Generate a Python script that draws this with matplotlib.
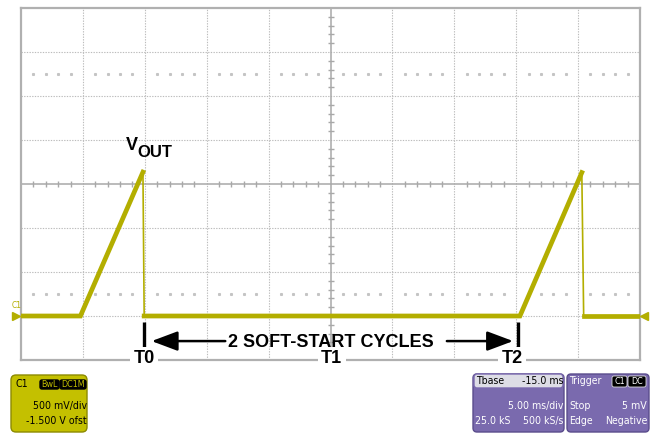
import matplotlib
matplotlib.use('Agg')
import matplotlib.pyplot as plt
from matplotlib import font_manager
from matplotlib.font_manager import FontProperties
from matplotlib.textpath import TextPath
from matplotlib.patches import FancyBboxPatch

# scope settings (5 ms/div, 500 mV/div, ofst -1.5 V -> screen centre = 1.5 V)
ms_per_div = 5.0
v_per_div = 0.5
v_center = 1.5
n_xdiv = 10
n_ydiv = 8

# VOUT trace breakpoints
trace_t = [0.0, 4.8, 9.85, 9.95, 40.3, 45.3, 45.45, 50.0]   # ms
trace_v = [0.0, 0.0, 1.635, 0.0, 0.0, 1.63, 0.0, 0.0]      # V
rise_segments = [(0, 2), (3, 5), (6, 7)]   # drawn thick
fall_segments = [(2, 3), (5, 6)]           # fast discharge, thin

# T0 / T1 / T2 markers
marker_labels = ['T0', 'T1', 'T2']
marker_t = [9.95, 25.1, 39.7]

trace_col = '#b3ae00'
grid_col = '#bcbcbc'
purple = '#7a6aae'
c1_col = '#c4c000'
bold_font = 'Liberation Sans'

# look for a condensed sans for the scope readouts
narrow_fp = None
for f in font_manager.fontManager.ttflist:
    if ('Narrow' in f.name or 'Condensed' in f.name or f.stretch in ('condensed', 'semi-condensed')) \
            and f.weight in ('normal', 400, 'regular') and f.style == 'normal':
        narrow_fp = FontProperties(fname=f.fname)
        break
if narrow_fp is None:
    narrow_fp = FontProperties(family='Liberation Sans')

# size so that "500 mV/div" is about 47 px wide, but keep the glyphs readable
w10 = TextPath((0, 0), '500 mV/div', size=10, prop=narrow_fp).get_extents().width
nfs = min(8.6, max(7.6, 47 * 0.72 * 10 / w10))

W, H = 650, 433
fig = plt.figure(figsize=(6.5, 4.33), dpi=100)
fig.patch.set_facecolor('white')

# graticule area in pixels: x 21..640, y 8..360
ax = fig.add_axes([21 / W, (H - 360) / H, 619 / W, 352 / H])
x0, x1 = 0.0, n_xdiv * ms_per_div
y0, y1 = v_center - 4 * v_per_div, v_center + 4 * v_per_div
ax.set_xlim(x0, x1)
ax.set_ylim(y0, y1)
ax.set_xticks([])
ax.set_yticks([])
for s in ax.spines.values():
    s.set_color('#b0b0b0')
    s.set_linewidth(1.6)

px_x = ms_per_div / 61.9   # ms per pixel
px_y = v_per_div / 44.0    # V per pixel

# dotted grid
for i in range(1, n_xdiv):
    if i != n_xdiv // 2:
        ax.axvline(i * ms_per_div, color=grid_col, lw=0.8, ls=(0, (1.2, 1.2)), zorder=1)
for j in range(1, n_ydiv):
    if j != n_ydiv // 2:
        ax.axhline(y0 + j * v_per_div, color=grid_col, lw=0.8, ls=(0, (1.2, 1.2)), zorder=1)

# centre axes with sub-division ticks
xc = x0 + n_xdiv / 2 * ms_per_div
ax.axhline(v_center, color='#a8a8a8', lw=1.1, zorder=1)
ax.axvline(xc, color='#a8a8a8', lw=1.1, zorder=1)
sub_t = [k * ms_per_div / 5 for k in range(1, n_xdiv * 5) if k % 5]
sub_v = [y0 + k * v_per_div / 5 for k in range(1, n_ydiv * 5) if k % 5]
ax.vlines(sub_t, v_center - 3 * px_y, v_center + 3 * px_y, color='#a8a8a8', lw=1.0, zorder=1)
ax.hlines(sub_v, xc - 3 * px_x, xc + 3 * px_x, color='#a8a8a8', lw=1.0, zorder=1)

# dot rows at +/-2.5 div
for yy in (v_center + 2.5 * v_per_div, v_center - 2.5 * v_per_div):
    ax.plot(sub_t, [yy] * len(sub_t), ls='none', marker='s', ms=1.2, color='#c4c4c4', zorder=1)

# trace
for a, b in rise_segments:
    ax.plot(trace_t[a:b + 1], trace_v[a:b + 1], color=trace_col, lw=3.4,
            solid_joinstyle='miter', zorder=4)
for a, b in fall_segments:
    ax.plot(trace_t[a:b + 1], trace_v[a:b + 1], color=trace_col, lw=1.2, zorder=4)

# ground markers
ax.plot([x0 - 5 * px_x], [0], marker='>', ms=6, color=trace_col, clip_on=False, zorder=5)
ax.plot([x1 + 4 * px_x], [0], marker='<', ms=6, color=trace_col, clip_on=False, zorder=5)
ax.text(x0 - 9 * px_x, 0 + 10 * px_y, 'C1', color=trace_col, fontsize=6,
        fontproperties=narrow_fp, ha='left', va='center', clip_on=False)

# VOUT label
ax.text(8.48, 1.886, 'V', fontsize=13, weight='bold', family=bold_font, ha='left', va='baseline')
ax.text(9.40, 1.807, 'OUT', fontsize=12, weight='bold', family=bold_font, ha='left', va='baseline')

# T0 / T2 vertical bars
ax.vlines([marker_t[0], 40.15], -0.068, -0.352, color='black', lw=2.4, zorder=5)

# cycle arrows and text
ya = v_center - 3.57 * v_per_div
ax.text(25.04, -0.352, '2 SOFT-START CYCLES', fontsize=13, weight='bold', family=bold_font,
        ha='center', va='baseline', zorder=6)
arrow = dict(arrowstyle='-|>,head_length=0.8,head_width=0.3', color='black', lw=1.8,
             mutation_scale=20, shrinkA=0, shrinkB=0)
ax.annotate('', xy=(10.55, ya), xytext=(16.5, ya), arrowprops=arrow)
ax.annotate('', xy=(39.75, ya), xytext=(34.4, ya), arrowprops=arrow)

for lab, t in zip(marker_labels, marker_t):
    ax.text(t, -0.5375, lab, fontsize=13, weight='bold', family=bold_font, ha='center',
            va='baseline', clip_on=False, zorder=6,
            bbox=dict(fc='white', ec='none', pad=2.5))

# overlay in pixel coordinates for the info boxes
ov = fig.add_axes([0, 0, 1, 1], zorder=10)
ov.set_xlim(0, W)
ov.set_ylim(H, 0)
ov.axis('off')


def rbox(xa, ya_, xb, yb, fc, ec, r=4, lw=1.0):
    ov.add_patch(FancyBboxPatch((xa, ya_), xb - xa, yb - ya_,
                                boxstyle='round,pad=0,rounding_size=%g' % r,
                                fc=fc, ec=ec, lw=lw))


def txt(x, y, s, color, ha='left', fs=None):
    ov.text(x, y, s, color=color, fontproperties=narrow_fp, fontsize=fs or nfs,
            ha=ha, va='center')


# C1 channel box
rbox(11, 375, 87, 432, c1_col, '#8c8a00', r=5)
txt(15, 384, 'C1', 'black')
rbox(40, 380, 59, 389, 'black', 'black', r=2)
rbox(60, 380, 86, 389, 'black', 'black', r=2)
txt(49.5, 384.5, 'BwL', c1_col, ha='center', fs=nfs - 1.2)
txt(73, 384.5, 'DC1M', c1_col, ha='center', fs=nfs - 1.2)
txt(87, 406, '500 mV/div', 'black', ha='right')
txt(87, 421, '-1.500 V ofst', 'black', ha='right')

# timebase box
rbox(473, 374, 564, 432, purple, '#5a4c8c', r=4)
rbox(474, 374, 563, 388, '#dddde6', purple, r=3)
txt(476, 381, 'Tbase', 'black')
txt(563, 381, '-15.0 ms', 'black', ha='right')
txt(563, 406, '5.00 ms/div', 'white', ha='right')
txt(475, 421, '25.0 kS', 'white')
txt(563, 421, '500 kS/s', 'white', ha='right')

# trigger box
rbox(567, 374, 649, 432, purple, '#5a4c8c', r=4)
txt(569, 381, 'Trigger', 'white')
rbox(612, 376, 627, 387, 'black', '#dddddd', r=2, lw=0.6)
rbox(628, 376, 646, 387, 'black', '#dddddd', r=2, lw=0.6)
txt(619.5, 381.5, 'C1', 'white', ha='center', fs=nfs - 1.2)
txt(637, 381.5, 'DC', 'white', ha='center', fs=nfs - 1.2)
txt(569, 406, 'Stop', 'white')
txt(647, 406, '5 mV', 'white', ha='right')
txt(569, 421, 'Edge', 'white')
txt(647, 421, 'Negative', 'white', ha='right')

fig.savefig('out.png', dpi=100)
